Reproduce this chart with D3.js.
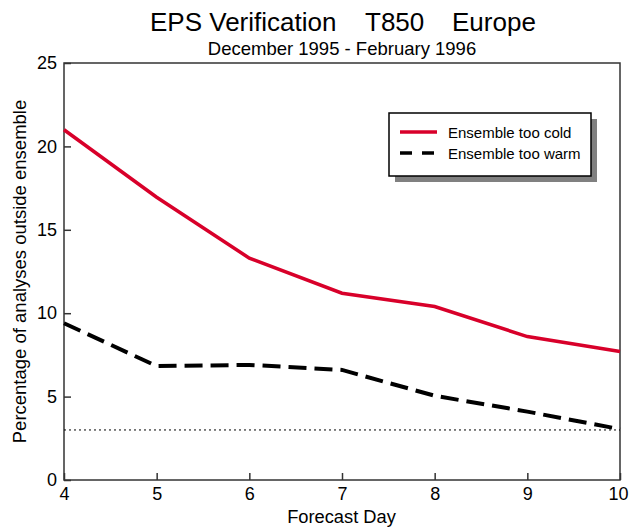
<!DOCTYPE html>
<html><head><meta charset="utf-8">
<script src="https://cdn.jsdelivr.net/npm/d3@7"></script>
<style>body{margin:0;background:#fff}svg{display:block}text{font-family:"Liberation Sans",Arial,Helvetica,sans-serif}</style>
</head><body>
<script>
const days = [4,5,6,7,8,9,10];
const tooCold = [21.0,16.95,13.3,11.2,10.4,8.6,7.7];
const tooWarm = [9.4,6.83,6.9,6.6,5.05,4.1,3.05];
const refLevel = 3.0;
const xTicks = [4,5,6,7,8,9,10];
const yTicks = [0,5,10,15,20,25];
const seriesNames = ["Ensemble too cold","Ensemble too warm"];
const titleParts = [["EPS Verification",150],["T850",365],["Europe",452]];

const W=629,H=529;
const m={l:64,r:9,t:63,b:49};
const svg=d3.select("body").append("svg").attr("width",W).attr("height",H);
const x=d3.scaleLinear().domain([4,10]).range([m.l,W-m.r]);
const y=d3.scaleLinear().domain([0,25]).range([H-m.b,m.t]);

// frame
svg.append("rect").attr("x",x(4)).attr("y",y(25)).attr("width",x(10)-x(4)).attr("height",y(0)-y(25))
  .attr("fill","none").attr("stroke","#333").attr("stroke-width",1.5);

const xa=svg.append("g").attr("transform",`translate(0,${y(0)})`)
  .call(d3.axisBottom(x).tickValues(xTicks).tickSizeInner(-7).tickSizeOuter(0).tickPadding(7).tickFormat(d3.format("d")));
const ya=svg.append("g").attr("transform",`translate(${x(4)},0)`)
  .call(d3.axisLeft(y).tickValues(yTicks).tickSizeInner(-7).tickSizeOuter(0).tickPadding(7).tickFormat(d3.format("d")));
[xa,ya].forEach(g=>{g.select(".domain").remove();g.selectAll("line").attr("stroke","#333").attr("stroke-width",1.5);
  g.selectAll("text").attr("font-size",18).attr("fill","#000").style("font-family",'"Liberation Sans",Arial,sans-serif');});
xa.selectAll("text").attr("dy","0.71em");
// keep last x label inside the page
xa.selectAll(".tick").filter(d=>d===10).select("text").attr("text-anchor","end").attr("x",8);

// reference dotted
svg.append("line").attr("x1",x(4)).attr("x2",x(10)).attr("y1",y(refLevel)).attr("y2",y(refLevel))
  .attr("stroke","#000").attr("stroke-width",1).attr("stroke-dasharray","2,3");

const line=d3.line().x((d,i)=>x(days[i])).y(d=>y(d));
svg.append("path").datum(tooCold).attr("d",line).attr("fill","none").attr("stroke","#d8002a").attr("stroke-width",3.5);
svg.append("path").datum(tooWarm).attr("d",line).attr("fill","none").attr("stroke","#000").attr("stroke-width",4).attr("stroke-dasharray","18,8");

// legend
const lg={x:389,y:113,w:202,h:63};
svg.append("rect").attr("x",lg.x+6).attr("y",lg.y+6).attr("width",lg.w).attr("height",lg.h).attr("fill","#808080");
svg.append("rect").attr("x",lg.x).attr("y",lg.y).attr("width",lg.w).attr("height",lg.h).attr("fill","#fff").attr("stroke","#000").attr("stroke-width",1.5);
const styles=[{c:"#d8002a",d:null},{c:"#000",d:"12,10"}];
seriesNames.forEach((n,i)=>{
  const yy=lg.y+19+i*21;
  svg.append("line").attr("x1",400).attr("x2",i?434:437).attr("y1",yy).attr("y2",yy).attr("stroke",styles[i].c).attr("stroke-width",3.5).attr("stroke-dasharray",styles[i].d);
  svg.append("text").attr("x",448).attr("y",yy+5.5).attr("font-size",15).text(n);
});

// titles
titleParts.forEach(([t,px])=>svg.append("text").attr("x",px).attr("y",31).attr("font-size",26).text(t));
svg.append("text").attr("x",342).attr("y",55).attr("text-anchor","middle").attr("font-size",18.5).text("December 1995 - February 1996");
svg.append("text").attr("x",341.5).attr("y",523).attr("text-anchor","middle").attr("font-size",18.3).text("Forecast Day");
svg.append("text").attr("transform",`translate(26,${(y(0)+y(25))/2}) rotate(-90)`).attr("text-anchor","middle").attr("font-size",18.5).text("Percentage of analyses outside ensemble");
</script>
</body></html>
